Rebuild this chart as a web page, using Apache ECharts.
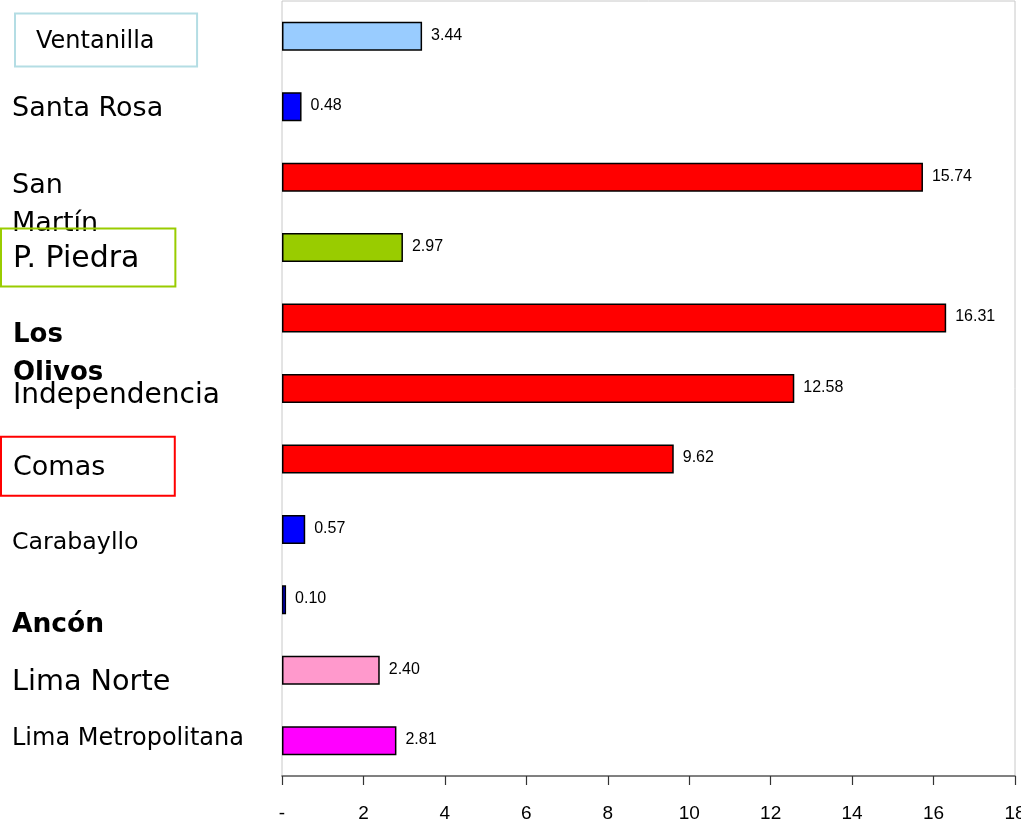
<!DOCTYPE html>
<html>
<head>
<meta charset="utf-8">
<script src="https://cdn.jsdelivr.net/npm/echarts@6/dist/echarts.min.js"></script>
<style>
html,body{margin:0;padding:0;background:#fff;}
#chart{width:1021px;height:827px;}
</style>
</head>
<body>
<div id="chart"></div>
<script>
// ---- data ----
const categories = ['Ventanilla', 'Santa Rosa', 'San Martín', 'P. Piedra', 'Los Olivos', 'Independencia', 'Comas', 'Carabayllo', 'Ancón', 'Lima Norte', 'Lima Metropolitana'];
const values = [3.44, 0.48, 15.74, 2.97, 16.31, 12.58, 9.62, 0.57, 0.10, 2.40, 2.81];
const xTickMin = 0, xTickMax = 18, xTickStep = 2;

// ---- styles ----
const barColors = ['#99ccff', '#0000ff', '#ff0000', '#99cc00', '#ff0000', '#ff0000', '#ff0000', '#0000ff', '#0000ff', '#ff99cc', '#ff00ff'];
const labelFont = 'DejaVu Sans';
const numFont = 'Liberation Sans';
// per-label rich style and block padding (vertical offset / indent)
const labelRich = [
  {fontSize: 24, padding: [16.5, 42.5, 12.5, 21], borderColor: '#b4dde4', borderWidth: 2},
  {fontSize: 27},
  {fontSize: 27, lineHeight: 38},
  {fontSize: 30, padding: [16, 35.9, 12, 12], borderColor: '#99cc00', borderWidth: 2},
  {fontSize: 26, lineHeight: 38, fontWeight: 'bold'},
  {fontSize: 28},
  {fontSize: 27, padding: [18, 69.5, 14, 12], borderColor: '#ff0000', borderWidth: 2},
  {fontSize: 23.7},
  {fontSize: 26.5, fontWeight: 'bold'},
  {fontSize: 28.7},
  {fontSize: 24}
];
const labelPad = [
  [7.6, 0, 0, 15], [4, 0, 0, 12], [55, 0, 0, 12], [19.8, 0, 0, 1], [73, 0, 0, 13],
  [14, 0, 0, 13], [14.6, 0, 0, 1], [26.6, 0, 0, 12], [49.6, 0, 0, 12], [25.4, 0, 0, 12], [0, 0, 4.6, 12]
];
const wrapLabel = [false, false, true, false, true, false, false, false, false, false, false];

const rich = {};
labelRich.forEach((s, i) => {
  rich['s' + i] = Object.assign({fontFamily: labelFont, color: '#000'}, s);
});

const chart = echarts.init(document.getElementById('chart'));
chart.setOption({
  animation: false,
  backgroundColor: '#ffffff',
  grid: {
    left: 282, right: 6, top: 1, bottom: 51,
    containLabel: false,
    outerBoundsMode: 'none',
    show: true, borderColor: '#c8c8c8', borderWidth: 1
  },
  xAxis: {
    type: 'value',
    min: xTickMin, max: xTickMax, interval: xTickStep,
    axisLine: {show: true, lineStyle: {color: '#606060', width: 1.5}},
    axisTick: {show: true, length: 9, lineStyle: {color: '#333', width: 1.2}},
    splitLine: {show: false},
    axisLabel: {
      margin: 28,
      fontFamily: numFont,
      fontSize: 19,
      color: '#000',
      showMaxLabel: true,
      formatter: v => v === 0 ? '-' : String(v)
    }
  },
  yAxis: {
    type: 'category',
    inverse: true,
    data: categories.map((c, i) => ({value: c, textStyle: {padding: labelPad[i], align: 'left', verticalAlign: 'middle'}})),
    axisLine: {show: false},
    axisTick: {show: false},
    splitLine: {show: false},
    axisLabel: {
      interval: 0,
      align: 'left',
      verticalAlign: 'middle',
      margin: 282,
      rich: rich,
      formatter: (value, idx) => {
        const lines = wrapLabel[idx] ? value.split(' ') : [value];
        return lines.map(l => '{s' + idx + '|' + l + '}').join('\n');
      }
    }
  },
  series: [{
    type: 'bar',
    barWidth: 29,
    data: values.map((v, i) => ({value: v, itemStyle: {color: barColors[i]}})),
    itemStyle: {borderColor: '#000', borderWidth: 1.5},
    label: {
      show: true,
      position: 'right',
      distance: 9,
      offset: [0, -1],
      fontFamily: numFont,
      fontSize: 16,
      color: '#000',
      formatter: p => p.value.toFixed(2)
    }
  }]
});
</script>
</body>
</html>
